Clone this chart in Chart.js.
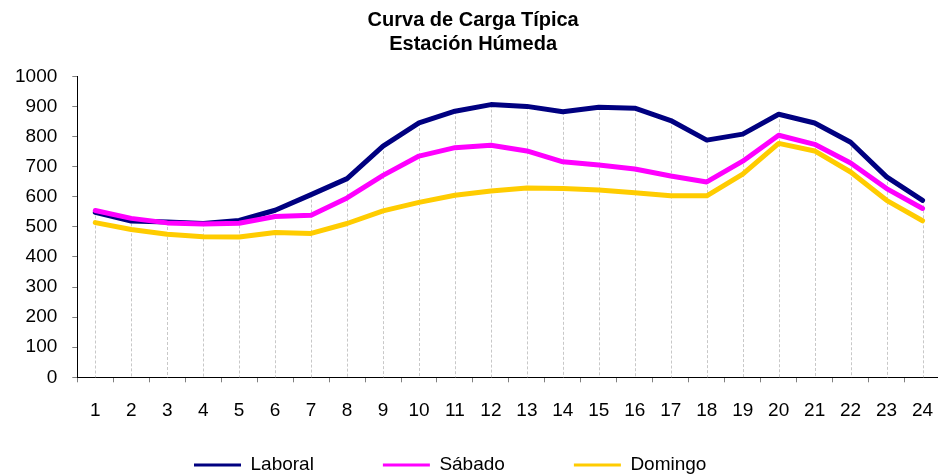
<!DOCTYPE html>
<html>
<head>
<meta charset="utf-8">
<script src="https://cdn.jsdelivr.net/npm/chart.js@4.4.1/dist/chart.umd.min.js"></script>
<style>
html,body{margin:0;padding:0;background:#fff;overflow:hidden;}
#wrap{width:950px;height:520px;}
</style>
</head>
<body>
<div id="wrap"><canvas id="c" width="950" height="520"></canvas></div>
<script>
const hours = ['1','2','3','4','5','6','7','8','9','10','11','12','13','14','15','16','17','18','19','20','21','22','23','24'];
const laboral = [548,519,516,511,521,555,607,660,768,845,884,906,900,882,897,894,853,788,808,874,845,781,666,588];
const sabado  = [554,528,513,509,512,534,538,596,671,735,763,771,752,716,705,692,669,649,718,804,774,712,627,561];
const domingo = [514,491,475,467,466,481,478,511,553,581,605,619,629,627,622,613,603,603,675,777,752,682,588,520];
const seriesNames = ['Laboral','Sábado','Domingo'];
const seriesColors = ['#000080','#FF00FF','#FFCC00'];
const titleLines = ['Curva de Carga Típica','Estación Húmeda'];
const yTicks = {min:0, max:1000, step:100};

const FONT = "'Liberation Sans', Arial, sans-serif";
const LEG_PAD = 69;
const LEG_FONT = 19;

const dropLines = {
  id:'dropLines',
  beforeDatasetsDraw(chart){
    const x = chart.scales.x, y = chart.scales.y, ctx = chart.ctx;
    const sets = chart.data.datasets;
    ctx.save();
    ctx.strokeStyle = '#c8c8c8';
    ctx.lineWidth = 1;
    ctx.setLineDash([3,2]);
    for(let i=0;i<hours.length;i++){
      let m = -Infinity;
      sets.forEach(d=>{ if(d.data[i]>m) m=d.data[i]; });
      const px = Math.round(x.getPixelForValue(i))+0.5;
      ctx.beginPath();
      ctx.moveTo(px, y.getPixelForValue(m));
      ctx.lineTo(px, y.getPixelForValue(0));
      ctx.stroke();
    }
    ctx.restore();
  }
};

const legendShift = {
  id:'legendShift',
  afterLayout(chart){
    const lg = chart.legend;
    if(!lg || !lg.lineWidths) return;
    const cur = (lg.left + LEG_PAD + lg.right - lg.lineWidths[0]) / 2;
    const dx = 194 - cur;
    lg.left += dx; lg.right += dx;
    const top = 465 - LEG_PAD - LEG_FONT/2;
    const h = lg.height;
    lg.top = top; lg.bottom = top + h;
  }
};

const mk = (name, data, color, order) => ({
  label: name, data: data, borderColor: color, backgroundColor: color,
  borderWidth: 5, pointRadius: 0, pointHoverRadius: 0, tension: 0, fill: false,
  order: order, borderJoinStyle: 'round', borderCapStyle: 'round'
});

new Chart(document.getElementById('c'), {
  type: 'line',
  data: {
    labels: hours,
    datasets: [
      mk(seriesNames[0], laboral, seriesColors[0], 3),
      mk(seriesNames[1], sabado, seriesColors[1], 2),
      mk(seriesNames[2], domingo, seriesColors[2], 1)
    ]
  },
  options: {
    responsive: false,
    animation: false,
    events: [],
    layout: { padding: { left: 0, right: 3.7, top: 0, bottom: 0 } },
    plugins: {
      title: {
        display: true, text: titleLines, color: '#000',
        font: { family: FONT, size: 20, weight: 'bold', lineHeight: 1.2 },
        padding: { top: 8, bottom: 20.3 }
      },
      legend: {
        position: 'bottom',
        labels: {
          color: '#000',
          font: { family: FONT, size: LEG_FONT },
          boxWidth: 47, boxHeight: 3, padding: LEG_PAD,
          sort: (a,b) => a.datasetIndex - b.datasetIndex,
          generateLabels(chart){
            const items = Chart.defaults.plugins.legend.labels.generateLabels(chart);
            items.forEach(it => { it.lineWidth = 0; it.strokeStyle = 'rgba(0,0,0,0)'; });
            return items;
          }
        }
      },
      tooltip: { enabled: false }
    },
    scales: {
      x: {
        offset: true,
        grid: { display: true, offset: true, drawOnChartArea: false, drawTicks: true, tickLength: 5, color: '#808080' },
        border: { display: true, color: '#000', width: 1 },
        ticks: { color: '#000', font: { family: FONT, size: 19 }, padding: 16.8, maxRotation: 0, autoSkip: false },
        afterFit(s){ s.height = 44.7; }
      },
      y: {
        min: yTicks.min, max: yTicks.max,
        grid: { display: true, drawOnChartArea: false, drawTicks: true, tickLength: 5, color: '#808080' },
        border: { display: true, color: '#000', width: 1 },
        ticks: { stepSize: yTicks.step, color: '#000', font: { family: FONT, size: 19 }, padding: 15,
                 callback: v => String(v) },
        afterFit(s){ s.width = 77.3; }
      }
    }
  },
  plugins: [dropLines, legendShift]
});
</script>
</body>
</html>
